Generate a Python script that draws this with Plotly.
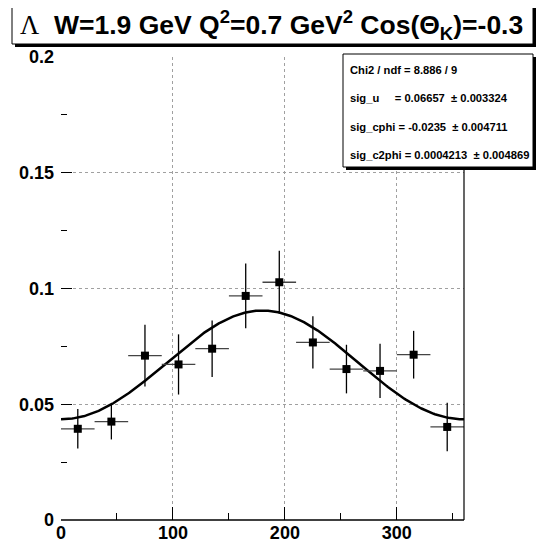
import plotly.graph_objects as go
import numpy as np

# ---- data ----
phi_bins = [15, 45, 75, 105, 135, 165, 195, 225, 255, 285, 315, 345]
phi_halfwidth = [15] * 12
sigma = [0.0394, 0.0425, 0.0710, 0.0672, 0.0740, 0.0968, 0.1027, 0.0767, 0.0652, 0.0644, 0.0714, 0.0402]
sigma_err = [0.0085, 0.0077, 0.0133, 0.0130, 0.0122, 0.0140, 0.0136, 0.0113, 0.0105, 0.0117, 0.0103, 0.0105]

# fit parameters (shown in the stats box)
sig_u = 0.06657
sig_cphi = -0.0235
sig_c2phi = 0.0004213

x_ticks = [0, 100, 200, 300]
x_ticktext = ["0", "100", "200", "300"]
y_ticks = [0, 0.05, 0.1, 0.15, 0.2]
y_ticktext = ["0", "0.05", "0.1", "0.15", "0.2"]

NB = "\u00a0"
stats_lines = [
    "Chi2 / ndf = 8.886 / 9",
    "sig_u" + NB * 5 + "= 0.06657" + NB * 2 + "\u00b1 0.003324",
    "sig_cphi = -0.0235" + NB * 2 + "\u00b1 0.004711",
    "sig_c2phi = 0.0004213" + NB * 2 + "\u00b1 0.004869",
]

# ---- geometry helpers (pixel -> paper); page body has an 8px margin ----
OFF = 8
W, H = 548 - OFF, 547 - OFF
L, R, T, B = 61 - OFF, 464 - OFF, 57 - OFF, 520 - OFF
def px(x):
    return (x - OFF - L) / (R - L)
def py(y):
    return (B - (y - OFF)) / (B - T)

FONT = "Liberation Sans, Arial, Helvetica, sans-serif"

phi_fit = np.linspace(0, 360, 361)
fit = sig_u + sig_cphi * np.cos(np.radians(phi_fit)) + sig_c2phi * np.cos(np.radians(2 * phi_fit))

fig = go.Figure()
fig.add_trace(go.Scatter(
    x=phi_fit, y=fit, mode="lines",
    line=dict(color="black", width=2.5), hoverinfo="skip", showlegend=False))
fig.add_trace(go.Scatter(
    x=phi_bins, y=sigma, mode="markers",
    marker=dict(symbol="square", size=8, color="black"),
    error_x=dict(type="data", array=phi_halfwidth, color="#444444", thickness=1.3, width=0),
    error_y=dict(type="data", array=sigma_err, color="black", thickness=1.3, width=0),
    showlegend=False))

fig.update_layout(
    width=W, height=H,
    margin=dict(l=L, r=W - R, t=T, b=H - B, autoexpand=False),
    paper_bgcolor="white", plot_bgcolor="white",
    xaxis=dict(range=[0, 360], tickvals=x_ticks, ticktext=x_ticktext,
               showgrid=True, gridcolor="#a0a0a0", griddash="dot", gridwidth=1,
               ticks="inside", ticklen=13, tickcolor="black", tickwidth=1,
               minor=dict(ticks="inside", ticklen=7, dtick=50, tick0=0, tickcolor="black", showgrid=False),
               tickfont=dict(family=FONT, size=18, color="black", weight="bold"),
               zeroline=False, showline=False, fixedrange=True),
    yaxis=dict(range=[0, 0.2], tickvals=y_ticks, ticktext=y_ticktext,
               showgrid=True, gridcolor="#a0a0a0", griddash="dot", gridwidth=1,
               ticks="inside", ticklen=11, tickcolor="black", tickwidth=1,
               minor=dict(ticks="inside", ticklen=6, dtick=0.025, tick0=0, tickcolor="black", showgrid=False),
               tickfont=dict(family=FONT, size=18, color="black", weight="bold"),
               ticklabelstandoff=6,
               zeroline=False, showline=False, fixedrange=True),
    showlegend=False,
)

shapes = []
shapes.append(dict(type="line", xref="paper", yref="paper", x0=0, x1=1, y0=0, y1=0,
                   line=dict(color="black", width=1.5)))
shapes.append(dict(type="line", xref="paper", yref="paper", x0=1, x1=1, y0=0, y1=1,
                   line=dict(color="black", width=1.2)))

def box(x0, y0, x1, y1, sh=3):
    out = []
    out.append(dict(type="rect", xref="paper", yref="paper",
                    x0=px(x0 + sh), x1=px(x1 + sh), y0=py(y1 + sh), y1=py(y0 + sh),
                    fillcolor="black", line=dict(width=0), layer="above"))
    out.append(dict(type="rect", xref="paper", yref="paper",
                    x0=px(x0), x1=px(x1), y0=py(y1), y1=py(y0),
                    fillcolor="white", line=dict(color="black", width=1), layer="above"))
    return out

shapes += box(12, 2, 533, 44, sh=3)
shapes += box(343, 54, 533, 167, sh=3)
fig.update_layout(shapes=shapes)

annotations = []
title = ("<span style=\"font-family:'Liberation Serif';font-weight:normal\">\u039b</span>  "
         "<b>W=1.9 GeV Q<sup>2</sup>=0.7 GeV<sup>2</sup> Cos(\u0398<sub>K</sub>)=-0.3</b>")
annotations.append(dict(text=title, xref="paper", yref="paper", x=px(18), y=py(25),
                        xanchor="left", yanchor="middle", showarrow=False,
                        font=dict(family=FONT, size=26.5, color="black")))
line_y = [70, 98, 127, 155]
for txt, yy in zip(stats_lines, line_y):
    annotations.append(dict(text=txt, xref="paper", yref="paper", x=px(348), y=py(yy),
                            xanchor="left", yanchor="middle", showarrow=False,
                            font=dict(family=FONT, size=11.2, color="black", weight="bold")))
fig.update_layout(annotations=annotations)

fig.write_html("out.html")
